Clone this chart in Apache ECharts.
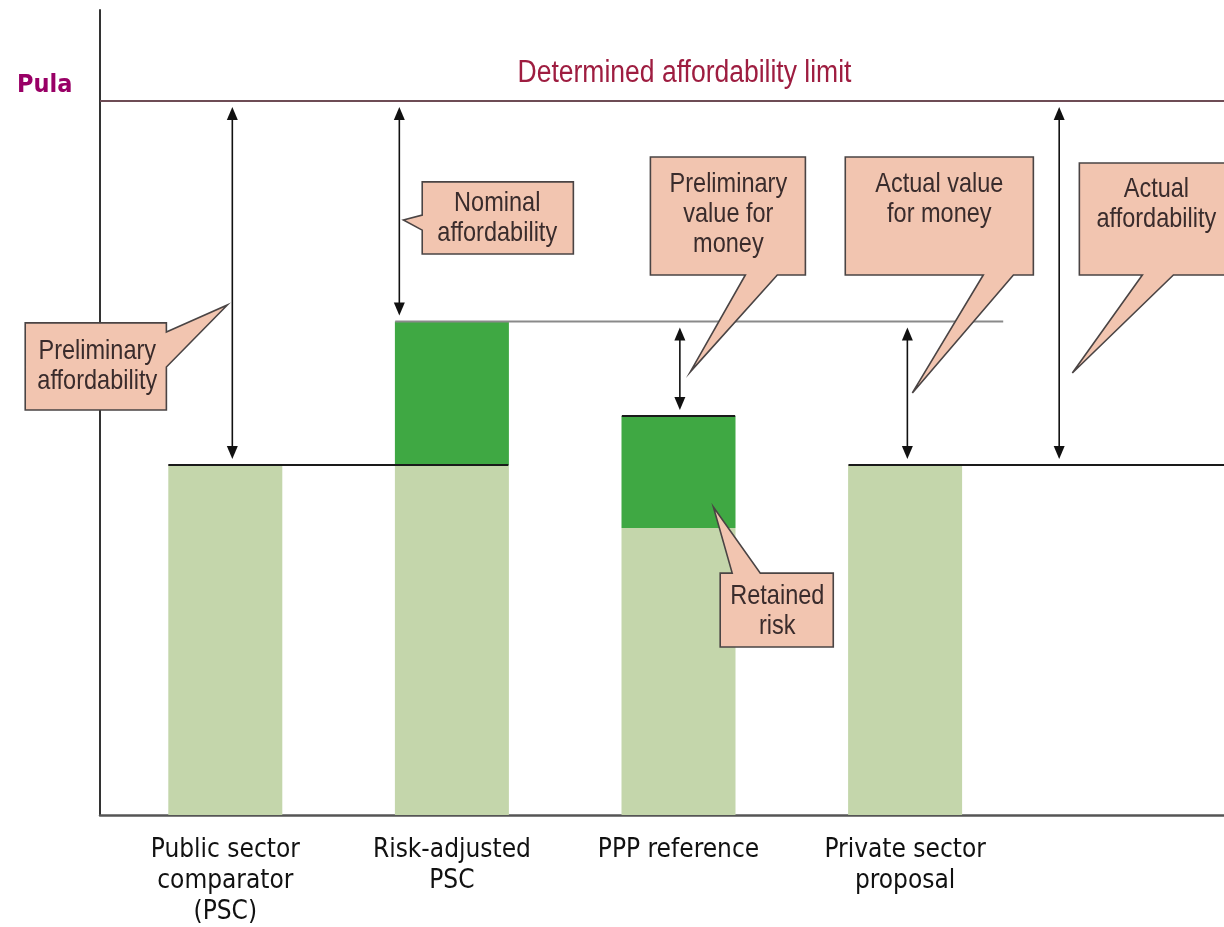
<!DOCTYPE html>
<html><head><meta charset="utf-8">
<script src="https://cdn.jsdelivr.net/npm/echarts@6/dist/echarts.min.js"></script>
<style>html,body{margin:0;padding:0;background:#fff}#chart{width:1224px;height:927px}</style>
</head><body><div id="chart"></div>
<script>
// ---------------- data ----------------
const categories = ['Public sector\ncomparator\n(PSC)', 'Risk-adjusted\nPSC', 'PPP reference', 'Private sector\nproposal', ''];
const baseCost = [100, 100, 82, 100, null];   // light green part
const riskCost = [null, 41, 32, null, null];  // dark green part (risk)
const affordabilityLimit = 204;
const pscLevel = 100;
const riskAdjustedLevel = 141;
const pppLevel = 114;
const yMax = 230;
const limitLabel = 'Determined affordability limit';
const unitLabel = 'Pula';

// ---------------- layout (category-index positions, value levels) ----------------
const FONT = "'Liberation Sans', Arial, sans-serif";
const AXFONT = "'DejaVu Sans Condensed', 'Liberation Sans', sans-serif";
const levelLines = [
  {from: -0.2515, to: 1.249, v: pscLevel, color: '#1a1a1a', w: 1.8},
  {from: 2.75, to: 4.7, v: pscLevel, color: '#1a1a1a', w: 1.8},
  {from: 0.75, to: 3.433, v: riskAdjustedLevel, color: '#8a8a8a', w: 2},
  {from: 1.75, to: 2.25, v: pppLevel, color: '#1a1a1a', w: 2}
];
const arrows = [
  {x: 0.031, top: affordabilityLimit, bottom: pscLevel},
  {x: 0.768, top: affordabilityLimit, bottom: riskAdjustedLevel},
  {x: 2.006, top: riskAdjustedLevel, bottom: pppLevel},
  {x: 3.010, top: riskAdjustedLevel, bottom: pscLevel},
  {x: 3.680, top: affordabilityLimit, bottom: pscLevel}
];
const callouts = [
  {label: 'Preliminary\naffordability', box: [-0.883, -0.260, 140.6, 115.7], edge: 'right', base: [138.0, 128.0], tip: [0.009, 145.7], text: [-0.565, 128.3]},
  {label: 'Nominal\naffordability', box: [0.869, 1.536, 180.9, 160.3], edge: 'left', base: [171.4, 167.1], tip: [0.786, 170.0], text: [1.200, 170.6]},
  {label: 'Preliminary\nvalue for\nmoney', box: [1.876, 2.560, 188.0, 154.3], edge: 'bottom', base: [2.295, 2.436], tip: [2.052, 126.6], text: [2.220, 171.7]},
  {label: 'Actual value\nfor money', box: [2.736, 3.566, 188.0, 154.3], edge: 'bottom', base: [3.345, 3.478], tip: [3.032, 120.6], text: [3.151, 176.0]},
  {label: 'Actual\naffordability', box: [3.769, 4.700, 186.3, 154.3], edge: 'bottom', base: [4.047, 4.184], tip: [3.738, 126.3], text: [4.109, 174.6]},
  {label: 'Retained\nrisk', box: [2.184, 2.683, 69.1, 48.0], edge: 'top', base: [2.237, 2.361], tip: [2.154, 88.0], text: [2.436, 58.3]}
];

function renderAnnotations(params, api) {
  const band = api.size([1, 0])[0];
  const x0 = api.coord([0, 0])[0];
  const X = p => x0 + p * band;
  const Y = v => api.coord([0, v])[1];
  const children = [];
  levelLines.forEach(l => children.push({
    type: 'line', shape: {x1: X(l.from), y1: Y(l.v), x2: X(l.to), y2: Y(l.v)},
    style: {stroke: l.color, lineWidth: l.w}
  }));
  const GAP = 6, HL = 13, HW = 5.5;
  arrows.forEach(a => {
    const x = X(a.x), yt = Y(a.top) + GAP, yb = Y(a.bottom) - GAP;
    children.push({type: 'line', shape: {x1: x, y1: yt + 4, x2: x, y2: yb - 4}, style: {stroke: '#111', lineWidth: 1.6}});
    children.push({type: 'polygon', shape: {points: [[x, yt], [x - HW, yt + HL], [x + HW, yt + HL]]}, style: {fill: '#111'}});
    children.push({type: 'polygon', shape: {points: [[x, yb], [x - HW, yb - HL], [x + HW, yb - HL]]}, style: {fill: '#111'}});
  });
  callouts.forEach(c => {
    const l = X(c.box[0]), r = X(c.box[1]), t = Y(c.box[2]), b = Y(c.box[3]);
    const tip = [X(c.tip[0]), Y(c.tip[1])];
    let pts;
    if (c.edge === 'right') pts = [[l, t], [r, t], [r, Y(c.base[0])], tip, [r, Y(c.base[1])], [r, b], [l, b]];
    else if (c.edge === 'left') pts = [[l, t], [r, t], [r, b], [l, b], [l, Y(c.base[1])], tip, [l, Y(c.base[0])]];
    else if (c.edge === 'bottom') pts = [[l, t], [r, t], [r, b], [X(c.base[1]), b], tip, [X(c.base[0]), b], [l, b]];
    else pts = [[l, t], [X(c.base[0]), t], tip, [X(c.base[1]), t], [r, t], [r, b], [l, b]];
    children.push({type: 'polygon', shape: {points: pts}, style: {fill: '#f2c5b0', stroke: '#4a4444', lineWidth: 1.6, lineJoin: 'miter'}});
    children.push({type: 'text', x: X(c.text[0]), y: Y(c.text[1]), scaleX: 0.84, style: {
      text: c.label, fontFamily: FONT, fontSize: 28, lineHeight: 30, fill: '#3a2c2c',
      align: 'center', verticalAlign: 'middle'
    }});
  });
  return {type: 'group', children};
}

function renderLimit(params, api) {
  const p0 = api.coord([0, affordabilityLimit]);
  const p1 = api.coord([1, affordabilityLimit]);
  const pm = api.coord([0.52, affordabilityLimit]);
  return {type: 'group', children: [
    {type: 'line', shape: {x1: p0[0], y1: p0[1], x2: p1[0], y2: p1[1]}, style: {stroke: '#6e4c55', lineWidth: 2}},
    {type: 'text', x: pm[0], y: pm[1] - 28, scaleX: 0.855, style: {
      text: limitLabel, fontFamily: FONT, fontSize: 31, fill: '#9e1d40', align: 'center', verticalAlign: 'middle'
    }}
  ]};
}

const chart = echarts.init(document.getElementById('chart'), null, {renderer: 'canvas'});
chart.setOption({
  animation: false,
  backgroundColor: '#ffffff',
  title: {text: unitLabel, left: 12, top: 68, textStyle: {fontSize: 25, fontWeight: 'bold', color: '#990066', fontFamily: AXFONT}},
  grid: [
    {left: 100, right: 0, top: 10, bottom: 112, outerBoundsMode: 'none'},
    {left: 112, width: 1133, top: 10, bottom: 112, outerBoundsMode: 'none'}
  ],
  xAxis: [
    {gridIndex: 0, type: 'value', min: 0, max: 1, axisLine: {show: true, lineStyle: {color: '#555', width: 2.5}}, axisTick: {show: false}, axisLabel: {show: false}, splitLine: {show: false}},
    {gridIndex: 1, type: 'category', data: categories, axisLine: {show: false}, axisTick: {show: false},
      axisLabel: {interval: 0, fontFamily: AXFONT, fontSize: 26, lineHeight: 31, color: '#111', margin: 20, verticalAlign: 'top'}}
  ],
  yAxis: [
    {gridIndex: 0, type: 'value', min: 0, max: yMax, axisLine: {show: true, lineStyle: {color: '#333', width: 2}}, axisTick: {show: false}, axisLabel: {show: false}, splitLine: {show: false}},
    {gridIndex: 1, type: 'value', min: 0, max: yMax, show: false}
  ],
  series: [
    {type: 'bar', name: 'Base', xAxisIndex: 1, yAxisIndex: 1, stack: 'cost', data: baseCost, barWidth: 114, itemStyle: {color: '#c4d6ab'}, silent: true},
    {type: 'bar', name: 'Risk', xAxisIndex: 1, yAxisIndex: 1, stack: 'cost', data: riskCost, barWidth: 114, itemStyle: {color: '#3fa843'}, silent: true},
    {type: 'custom', name: 'limit', xAxisIndex: 0, yAxisIndex: 0, data: [[0, affordabilityLimit]], renderItem: renderLimit, silent: true, z: 3},
    {type: 'custom', name: 'annotations', xAxisIndex: 1, yAxisIndex: 1, data: [[0, 0]], renderItem: renderAnnotations, silent: true, z: 5}
  ]
});
</script></body></html>
